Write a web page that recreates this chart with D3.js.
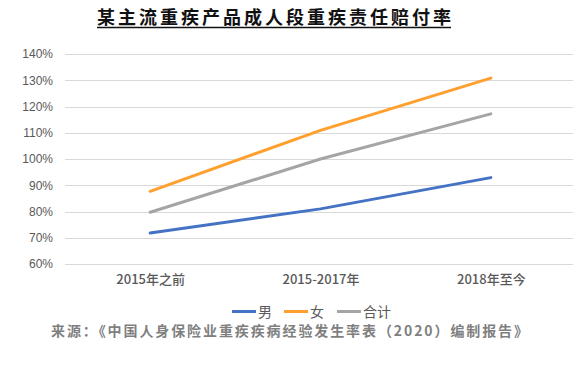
<!DOCTYPE html>
<html>
<head>
<meta charset="utf-8">
<script src="https://cdn.jsdelivr.net/npm/d3@7"></script>
<style>
  body { margin: 0; background: #fff; }
  svg { display: block; font-family: "Noto Sans CJK SC", "Liberation Sans", sans-serif; }
</style>
</head>
<body>
<div id="chart"></div>
<script>
// Define SVG area dimensions
var svgWidth = 573;
var svgHeight = 365;

// Data
var categories = ["2015年之前", "2015-2017年", "2018年至今"];
var maleValues = [71.8, 81.0, 92.9];
var femaleValues = [87.7, 110.9, 130.8];
var totalValues = [79.7, 100.0, 117.2];
var yTicks = [60, 70, 80, 90, 100, 110, 120, 130, 140];
var seriesNames = ["男", "女", "合计"];
var seriesColors = ["#4472C4", "#FFA02E", "#A5A5A5"];

var titleText = "某主流重疾产品成人段重疾责任赔付率";
var sourceText = "来源：《中国人身保险业重疾疾病经验发生率表（2020）编制报告》";

// chart area
var margin = { top: 54, right: -3, bottom: 101, left: 65 };
var chartWidth = svgWidth - margin.left - margin.right;
var chartHeight = svgHeight - margin.top - margin.bottom;

var svg = d3
  .select("#chart")
  .append("svg")
  .attr("width", svgWidth)
  .attr("height", svgHeight);

// title with underline
svg.append("text")
  .attr("x", 97)
  .attr("y", 24)
  .attr("font-size", 18)
  .attr("font-weight", "bold")
  .attr("fill", "#111")
  .attr("textLength", 354)
  .attr("lengthAdjust", "spacing")
  .text(titleText);

svg.append("line")
  .attr("x1", 97)
  .attr("x2", 451)
  .attr("y1", 27.5)
  .attr("y2", 27.5)
  .attr("stroke", "#111")
  .attr("stroke-width", 1.3);

var chartGroup = svg
  .append("g")
  .attr("transform", `translate(${margin.left}, ${margin.top})`);

// scales
var xScale = d3.scalePoint()
  .domain(categories)
  .range([0, chartWidth])
  .padding(0.5);

var yScale = d3.scaleLinear()
  .domain([60, 140])
  .range([chartHeight, 0]);

// gridlines
chartGroup.append("g")
  .selectAll("line")
  .data(yTicks)
  .enter()
  .append("line")
  .attr("x1", 0)
  .attr("x2", chartWidth)
  .attr("y1", d => Math.round(yScale(d)) + 0.5)
  .attr("y2", d => Math.round(yScale(d)) + 0.5)
  .attr("stroke", "#d9d9d9")
  .attr("stroke-width", 1);

// y axis labels
var leftAxis = d3.axisLeft(yScale)
  .tickValues(yTicks)
  .tickSize(0)
  .tickPadding(12)
  .tickFormat(d => d + "%");

var yAxis = chartGroup.append("g").call(leftAxis);
yAxis.select(".domain").remove();
yAxis.selectAll("text")
  .attr("font-family", "'Liberation Sans', Arial, sans-serif")
  .attr("font-size", 12)
  .attr("fill", "#595959");

// x axis labels
var bottomAxis = d3.axisBottom(xScale).tickSize(0).tickPadding(11);
var xAxis = chartGroup.append("g")
  .attr("transform", `translate(0, ${chartHeight})`)
  .call(bottomAxis);
xAxis.select(".domain").remove();
xAxis.selectAll("text")
  .attr("font-family", "'Noto Sans CJK SC', sans-serif")
  .attr("font-size", 13)
  .attr("font-weight", 500)
  .attr("fill", "#595959");

// lines
var allSeries = [maleValues, femaleValues, totalValues];
var lineGen = d3.line()
  .x((d, i) => xScale(categories[i]))
  .y(d => yScale(d));

chartGroup.selectAll(".series")
  .data(allSeries)
  .enter()
  .append("path")
  .attr("class", "series")
  .attr("d", d => lineGen(d))
  .attr("fill", "none")
  .attr("stroke", (d, i) => seriesColors[i])
  .attr("stroke-width", 3)
  .attr("stroke-linecap", "round");

// legend
var legendX = [232, 284, 337];
var legend = svg.append("g").attr("transform", "translate(0, 311.5)");
seriesNames.forEach(function(name, i) {
  legend.append("line")
    .attr("x1", legendX[i])
    .attr("x2", legendX[i] + 24)
    .attr("y1", 0)
    .attr("y2", 0)
    .attr("stroke", seriesColors[i])
    .attr("stroke-width", 3);
  legend.append("text")
    .attr("x", legendX[i] + 26)
    .attr("y", 5)
    .attr("font-size", 14)
    .attr("fill", "#595959")
    .text(name);
});

// source note
svg.append("text")
  .attr("x", 51)
  .attr("y", 336)
  .attr("font-size", 14)
  .attr("font-weight", "bold")
  .attr("fill", "#7f7f7f")
  .attr("textLength", 477)
  .attr("lengthAdjust", "spacing")
  .text(sourceText);
</script>
</body>
</html>
